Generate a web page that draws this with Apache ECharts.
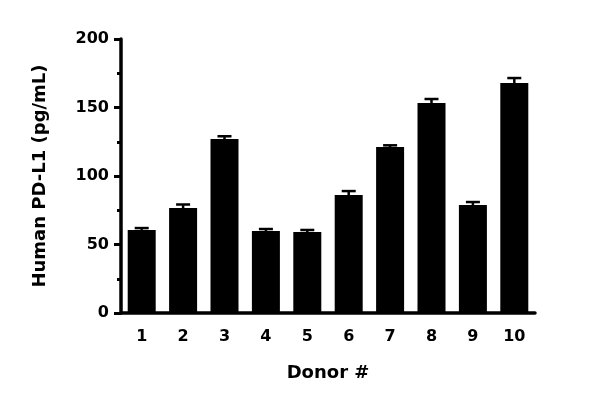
<!DOCTYPE html>
<html><head><meta charset="utf-8">
<script src="https://cdn.jsdelivr.net/npm/echarts@6/dist/echarts.min.js"></script>
<style>html,body{margin:0;padding:0;background:#fff}#c{width:600px;height:404px}</style>
</head><body><div id="c"></div>
<script>
const donors = ['1','2','3','4','5','6','7','8','9','10'];
const means = [60.6, 76.6, 127, 59.9, 59.1, 86.1, 121.2, 153.3, 78.8, 167.9];
const errors = [1.4, 2.6, 2.0, 1.4, 1.5, 2.9, 1.2, 2.9, 2.2, 3.6];
const yTicks = [0, 50, 100, 150, 200];

const FONT = 'DejaVu Sans';
const chart = echarts.init(document.getElementById('c'), null, {renderer: 'canvas'});
chart.setOption({
  animation: false,
  backgroundColor: '#fff',
  grid: {left: 121, right: 65, top: 39, bottom: 91},
  xAxis: {
    type: 'category',
    data: donors,
    boundaryGap: true,
    name: 'Donor #',
    nameLocation: 'middle',
    nameGap: 51,
    nameTextStyle: {color: '#000', fontSize: 18, fontWeight: 'bold', fontFamily: FONT},
    axisLine: {lineStyle: {color: '#000', width: 3.5}},
    axisTick: {alignWithLabel: true, length: 7, lineStyle: {color: '#000', width: 3}},
    axisLabel: {color: '#000', fontSize: 16, fontWeight: 'bold', fontFamily: FONT, margin: 16}
  },
  yAxis: {
    type: 'value',
    min: yTicks[0], max: yTicks[yTicks.length - 1], interval: 50,
    name: 'Human PD-L1 (pg/mL)',
    nameLocation: 'middle',
    nameGap: 72,
    nameTextStyle: {color: '#000', fontSize: 18, fontWeight: 'bold', fontFamily: FONT},
    axisLine: {show: true, lineStyle: {color: '#000', width: 3.5}},
    axisTick: {show: true, length: 7, lineStyle: {color: '#000', width: 3}},
    minorTick: {show: true, splitNumber: 2, length: 4, lineStyle: {color: '#000', width: 3}},
    splitLine: {show: false},
    axisLabel: {color: '#000', fontSize: 16, fontWeight: 'bold', fontFamily: FONT, margin: 12}
  },
  series: [
    {
      type: 'bar',
      data: means,
      barWidth: 28,
      itemStyle: {color: '#000'},
      z: 2
    },
    {
      type: 'custom',
      data: means.map((m, i) => [i, m, m + errors[i]]),
      z: 3,
      renderItem: function (params, api) {
        const x = api.value(0);
        const p0 = api.coord([x, api.value(1)]);
        const p1 = api.coord([x, api.value(2)]);
        const hw = 7;
        return {
          type: 'group',
          children: [
            {type: 'line', shape: {x1: p0[0], y1: p0[1], x2: p1[0], y2: p1[1]}, style: {stroke: '#000', lineWidth: 2.5}},
            {type: 'line', shape: {x1: p1[0] - hw, y1: p1[1], x2: p1[0] + hw, y2: p1[1]}, style: {stroke: '#000', lineWidth: 2.5}}
          ]
        };
      }
    }
  ]
});
</script></body></html>
